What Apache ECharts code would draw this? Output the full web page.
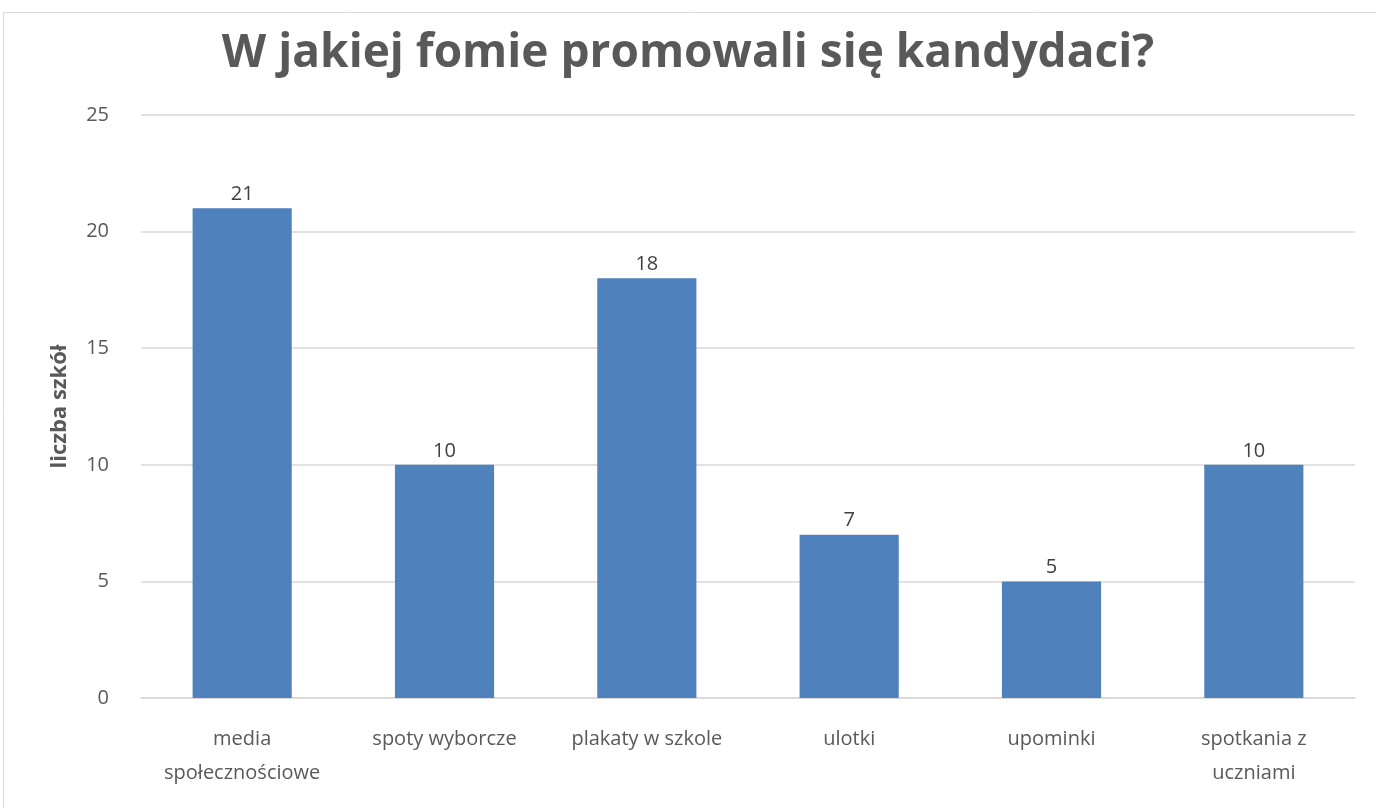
<!DOCTYPE html>
<html>
<head>
<meta charset="utf-8">
<script src="https://cdn.jsdelivr.net/npm/echarts@6/dist/echarts.min.js"></script>
<style>
  html, body { margin: 0; padding: 0; background: #fff; }
  #chart { width: 1376px; height: 808px; }
</style>
</head>
<body>
<div id="chart"></div>
<script>
  // dane z wykresu
  const categories = ['media\nspołecznościowe', 'spoty wyborcze', 'plakaty w szkole', 'ulotki', 'upominki', 'spotkania z\nuczniami'];
  const values = [21, 10, 18, 7, 5, 10];
  const yTicks = [0, 5, 10, 15, 20, 25];

  const font = '"Open Sans", sans-serif';
  const chart = echarts.init(document.getElementById('chart'));

  let option = {
    backgroundColor: '#fff',
    animation: false,
    title: {
      text: 'W jakiej fomie promowali się kandydaci?',
      left: 'center',
      top: 26,
      textStyle: {
        fontFamily: font,
        fontSize: 46,
        fontWeight: 'bold',
        color: '#595959'
      }
    },
    graphic: [{
      type: 'rect',
      shape: { x: 3.5, y: 12.5, width: 1380, height: 800 },
      style: { fill: 'none', stroke: '#d9d9d9', lineWidth: 1 },
      silent: true
    }],
    grid: {
      left: 141,
      right: 21,
      top: 115,
      bottom: 110
    },
    xAxis: {
      type: 'category',
      data: categories,
      axisLine: { lineStyle: { color: '#d9d9d9', width: 1.5 } },
      axisTick: { show: false },
      axisLabel: {
        interval: 0,
        margin: 24,
        fontFamily: font,
        fontSize: 20,
        lineHeight: 34,
        color: '#595959'
      }
    },
    yAxis: {
      type: 'value',
      min: yTicks[0],
      max: yTicks[yTicks.length - 1],
      interval: 5,
      name: 'liczba szkół',
      nameLocation: 'middle',
      nameGap: 70,
      nameTextStyle: {
        fontFamily: font,
        fontSize: 22,
        fontWeight: 'bold',
        color: '#595959'
      },
      axisLine: { show: false },
      axisTick: { show: false },
      axisLabel: {
        margin: 32,
        fontFamily: font,
        fontSize: 20,
        color: '#595959'
      },
      splitLine: { lineStyle: { color: '#d9d9d9', width: 1.5 } }
    },
    series: [{
      type: 'bar',
      data: values,
      barWidth: '49%',
      itemStyle: { color: '#4F81BD' },
      label: {
        show: true,
        position: 'top',
        distance: 4,
        fontFamily: font,
        fontSize: 20,
        color: '#404040'
      }
    }]
  };

  chart.setOption(option);
</script>
</body>
</html>
